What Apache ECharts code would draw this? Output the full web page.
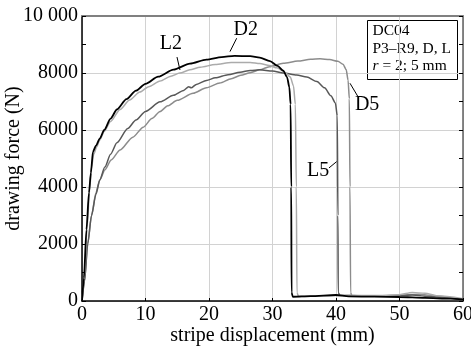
<!DOCTYPE html>
<html>
<head>
<meta charset="utf-8">
<script src="https://cdn.jsdelivr.net/npm/echarts@6/dist/echarts.min.js"></script>
<style>
  html, body { margin: 0; padding: 0; background: #fff; }
  #chart { width: 471px; height: 347px; }
</style>
</head>
<body>
<div id="chart"></div>
<script>
// Drawing force vs. stripe displacement, DC04, P3–R9 tool, drawing (D) and lateral (L) directions

const xTicks = [0, 10, 20, 30, 40, 50, 60];
const yTicks = [0, 2000, 4000, 6000, 8000, 10000];

// [displacement (mm), force (N)]
const curveD5 = [
  [0, 0], [0.4, 700], [0.9, 2000], [1.5, 3000], [2.2, 3800], [2.8, 4250], [3.6, 4600],
  [4.6, 4950], [6, 5300], [8, 5750], [9.65, 6100], [11, 6400], [12.3, 6650], [13.5, 6850],
  [15, 7040], [17.5, 7290], [19.6, 7480], [21.7, 7650], [23.5, 7800], [25, 7920],
  [26.5, 8010], [28, 8110], [29.5, 8220], [31.7, 8340], [34, 8420],
  [36, 8480], [37.5, 8500], [39, 8470], [40.3, 8410], [41.1, 8310], [41.6, 8120],
  [41.9, 7750], [42.1, 7100], [42.2, 4000], [42.3, 300], [42.5, 180], [46, 170],
  [50, 200], [53, 240], [56, 170], [60, 50]
];

const curveL5 = [
  [0, 0], [0.4, 700], [0.9, 2000], [1.5, 3000], [2.2, 3750], [2.8, 4250], [3.6, 4700],
  [4.5, 5150], [5.5, 5550], [7.2, 6050], [8.5, 6350], [10, 6650], [12.3, 6990],
  [14.4, 7220], [16, 7390], [16.8, 7520], [17.2, 7480], [18, 7600], [19.6, 7740],
  [21, 7830], [23, 7940], [24.9, 8030], [26.5, 8090], [28, 8110], [30, 8070],
  [31.7, 8000], [33.8, 7930], [35.4, 7860], [37, 7700], [38.2, 7480], [39.2, 7200],
  [39.9, 6950], [40.2, 6500], [40.3, 3000], [40.35, 300], [40.6, 200], [44, 180],
  [48, 170], [52, 210], [55, 150], [60, 50]
];

const curveL2 = [
  [0, 0], [0.4, 900], [0.8, 2600], [1.2, 3900], [1.5, 4700], [1.85, 5150], [2.3, 5400],
  [2.8, 5650], [3.5, 5950], [4.5, 6300], [6, 6720], [7.5, 7050], [9.1, 7330],
  [10.5, 7520], [12.3, 7720], [14, 7890], [15.4, 8000], [17, 8110], [18.6, 8200],
  [21, 8300], [23.5, 8370], [26.5, 8370], [28, 8330], [29.5, 8260], [30.7, 8180],
  [32, 8020], [32.8, 7860], [33.3, 7550], [33.6, 6900], [33.75, 4000], [33.85, 300],
  [34.1, 160], [38, 180], [42, 200], [46, 190], [50, 220], [52, 300], [54, 270],
  [56, 180], [60, 80]
];

const curveD2 = [
  [0, 0], [0.3, 800], [0.7, 2500], [1.1, 3800], [1.4, 4500], [1.73, 5240], [2.2, 5450],
  [2.8, 5700], [3.5, 6000], [4.5, 6400], [5.5, 6720], [7, 7080], [8.5, 7380],
  [10, 7620], [12, 7870], [14.4, 8120], [17, 8330], [19.6, 8470], [22, 8560],
  [24, 8600], [26.5, 8590], [28, 8540], [29.6, 8420], [30.8, 8250], [31.7, 8080],
  [32.3, 7850], [32.65, 7500], [32.85, 6900], [32.95, 4000], [33.0, 300], [33.2, 150],
  [36, 170], [40, 210], [42, 160], [46, 150], [50, 140], [54, 110], [58, 80], [60, 60]
];

// curve names with label centre and leader line (data coordinates)
const labelText = ['L2', 'D2', 'D5', 'L5'];
const labelAt = [[14.0, 9020], [25.8, 9510], [44.9, 6880], [37.2, 4560]];
const leaderFrom = [[14.96, 8560], [24.36, 9220], [43.46, 7170], [38.9, 4670]];
const leaderTo = [[15.43, 8105], [23.3, 8750], [42.2, 7640], [40.1, 4890]];

const infoLines = ['DC04', 'P3–R9, D, L'];

const serif = '"Liberation Serif", "DejaVu Serif", serif';

function annotate(i) {
  return {
    markLine: {
      silent: true, symbol: 'none', animation: false,
      lineStyle: { color: '#000', width: 1, type: 'solid' },
      label: { show: false },
      data: [[{ coord: leaderFrom[i] }, { coord: leaderTo[i] }]]
    },
    markPoint: {
      silent: true, symbol: 'circle', symbolSize: 0, animation: false,
      label: {
        show: true, position: 'inside', color: '#000',
        fontFamily: serif, fontSize: 20, formatter: labelText[i]
      },
      data: [{ coord: labelAt[i] }]
    }
  };
}

function curve(name, data, color, width, ann) {
  return Object.assign({
    name, type: 'line', data, showSymbol: false, symbol: 'none',
    smooth: 0.25, smoothMonotone: 'x',
    lineStyle: { color, width }, z: 3
  }, ann);
}

const chart = echarts.init(document.getElementById('chart'), null, { renderer: 'canvas' });

chart.setOption({
  animation: false,
  backgroundColor: '#fff',
  grid: { left: 82, right: 8, top: 16, bottom: 46, containLabel: false, outerBoundsMode: 'none' },
  xAxis: [{
    type: 'value', min: xTicks[0], max: xTicks[xTicks.length - 1], interval: 10,
    name: 'stripe displacement (mm)', nameLocation: 'middle', nameGap: 25, nameMoveOverlap: false,
    nameTextStyle: { fontFamily: serif, fontSize: 20, color: '#000' },
    axisLine: { show: true, onZero: false, lineStyle: { color: '#000', width: 1.5 } },
    axisTick: { show: true, inside: true, length: 3, lineStyle: { color: '#000' } },
    axisLabel: { fontFamily: serif, fontSize: 20, color: '#000', margin: 4 },
    splitLine: { show: true, lineStyle: { color: '#d2d2d2', width: 1 } }
  }, {
    type: 'value', position: 'top', min: 0, max: 60, interval: 10,
    axisLine: { show: true, onZero: false, lineStyle: { color: '#808080', width: 2 } },
    axisTick: { show: false }, axisLabel: { show: false }, splitLine: { show: false }
  }],
  yAxis: [{
    type: 'value', min: yTicks[0], max: yTicks[yTicks.length - 1], interval: 2000,
    name: 'drawing force (N)', nameLocation: 'middle', nameGap: 58, nameMoveOverlap: false,
    nameTextStyle: { fontFamily: serif, fontSize: 20, color: '#000' },
    axisLine: { show: true, onZero: false, lineStyle: { color: '#000', width: 1.5 } },
    axisTick: { show: true, inside: true, length: 4, lineStyle: { color: '#000' } },
    minorTick: { show: true, splitNumber: 2, length: 4, lineStyle: { color: '#000' } },
    axisLabel: {
      fontFamily: serif, fontSize: 20, color: '#000', margin: 4,
      formatter: v => (v === 10000 ? '10 000' : String(v))
    },
    splitLine: { show: true, lineStyle: { color: '#d2d2d2', width: 1 } }
  }, {
    type: 'value', position: 'right', min: 0, max: 10000, interval: 2000,
    axisLine: { show: true, onZero: false, lineStyle: { color: '#606060', width: 1.5 } },
    axisTick: { show: true, inside: true, length: 4, lineStyle: { color: '#000' } },
    minorTick: { show: true, splitNumber: 2, length: 4, lineStyle: { color: '#000' } },
    axisLabel: { show: false }, splitLine: { show: false }
  }],
  series: [
    curve('D5', curveD5, '#8c8c8c', 1.5, annotate(2)),
    curve('L5', curveL5, '#585858', 1.5, annotate(3)),
    curve('L2', curveL2, '#ababab', 1.5, annotate(0)),
    curve('D2', curveD2, '#000000', 1.8, annotate(1))
  ],
  graphic: [{
    type: 'group', right: 13, top: 20,
    children: [{
      type: 'rect', shape: { x: 0, y: 0, width: 90, height: 59 },
      style: { fill: '#fff', stroke: '#000', lineWidth: 1 }
    }, {
      type: 'text', x: 5, y: 2,
      style: {
        text: infoLines.join('\n') + '\n{i|r} = 2; 5 mm',
        fontFamily: serif, fontSize: 15.5, lineHeight: 17.5, fill: '#000',
        rich: { i: { fontStyle: 'italic', fontFamily: serif, fontSize: 15.5, lineHeight: 17.5 } }
      }
    }]
  }]
});
</script>
</body>
</html>
